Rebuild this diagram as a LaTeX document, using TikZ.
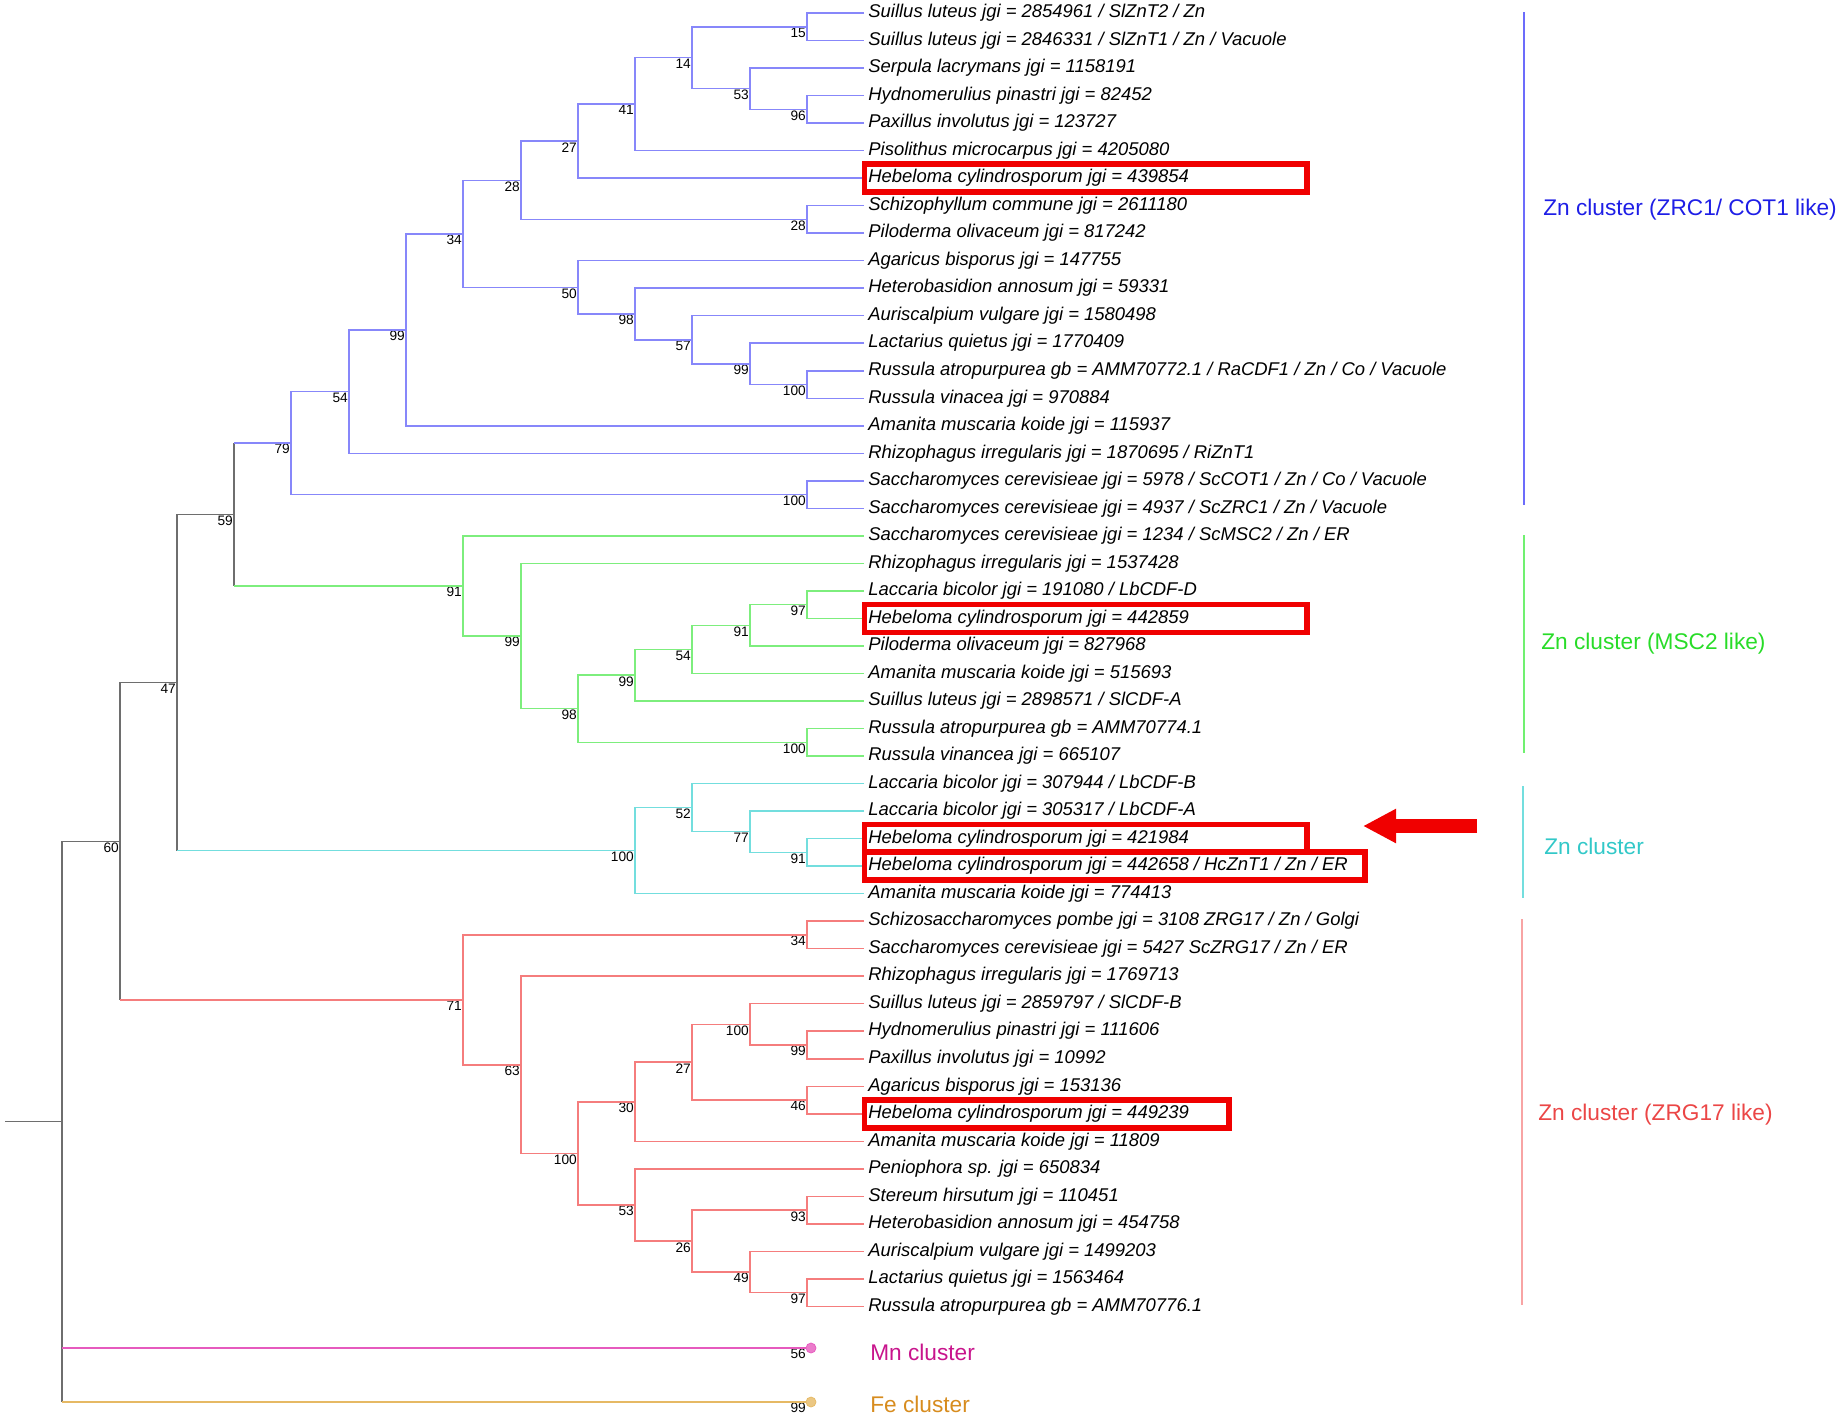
\documentclass[tikz,border=0pt]{standalone}
\usepackage{fontspec}
\setmainfont{Liberation Sans}
\usetikzlibrary{positioning}
\usetikzlibrary{arrows.meta}
\definecolor{treeblue}{RGB}{135,135,250}
\definecolor{treegreen}{RGB}{125,238,125}
\definecolor{treecyan}{RGB}{115,222,222}
\definecolor{treered}{RGB}{245,125,125}
\definecolor{treegray}{RGB}{110,110,110}
\definecolor{treemn}{RGB}{230,90,190}
\definecolor{treefe}{RGB}{230,185,100}
\definecolor{labblue}{RGB}{30,30,230}
\definecolor{labgreen}{RGB}{40,220,40}
\definecolor{labcyan}{RGB}{50,200,200}
\definecolor{labred}{RGB}{235,70,70}
\definecolor{labmn}{RGB}{200,20,140}
\definecolor{labfe}{RGB}{215,140,30}
\definecolor{hlred}{RGB}{240,0,0}
\tikzset{
    leafnode/.style = {anchor=west, inner xsep=2.5pt, inner ysep=0pt, outer sep=0pt, font=\itshape\fontsize{10.5}{12}\selectfont, text=black},
    bootnode/.style = {anchor=north east, inner sep=0.7pt, outer sep=0pt, font=\fontsize{7.8}{9}\selectfont, text=black},
    tipnode/.style = {circle, inner sep=0pt, outer sep=0pt, minimum size=0.2cm},
    clusnode/.style = {anchor=west, inner sep=0pt, font=\fontsize{12.9}{15}\selectfont},
    edgen/.style = {-, line width=0.85pt, treegray},
    edgeb/.style = {-, line width=0.85pt, treeblue},
    edgeg/.style = {-, line width=0.85pt, treegreen},
    edgec/.style = {-, line width=0.85pt, treecyan},
    edger/.style = {-, line width=0.85pt, treered},
    edgem/.style = {-, line width=0.85pt, treemn},
    edgef/.style = {-, line width=0.85pt, treefe},
    hlbox/.style = {draw=hlred, line width=0.11cm},
    hlarrow/.style = {hlred, line width=0.28cm, -{Triangle[length=0.66cm,width=0.64cm]}}
}

\begin{document}
\begin{tikzpicture}[x=0.02cm,y=-0.02cm]
\useasboundingbox (0,0) rectangle (1843,1421);
%
% leaves, Zn cluster (ZRC1/ COT1 like)
\node[leafnode] at (864,13.0) (l0) {Suillus luteus jgi = 2854961 / SlZnT2 / Zn};
\node[leafnode] at (864,40.5) (l1) {Suillus luteus jgi = 2846331 / SlZnT1 / Zn / Vacuole};
\node[leafnode] at (864,68.0) (l2) {Serpula lacrymans jgi = 1158191};
\node[leafnode] at (864,95.6) (l3) {Hydnomerulius pinastri jgi = 82452};
\node[leafnode] at (864,123.1) (l4) {Paxillus involutus jgi = 123727};
\node[leafnode] at (864,150.6) (l5) {Pisolithus microcarpus jgi = 4205080};
\node[leafnode] at (864,178.1) (l6) {Hebeloma cylindrosporum jgi = 439854};
\node[leafnode] at (864,205.6) (l7) {Schizophyllum commune jgi = 2611180};
\node[leafnode] at (864,233.2) (l8) {Piloderma olivaceum jgi = 817242};
\node[leafnode] at (864,260.7) (l9) {Agaricus bisporus jgi = 147755};
\node[leafnode] at (864,288.2) (l10) {Heterobasidion annosum jgi = 59331};
\node[leafnode] at (864,315.7) (l11) {Auriscalpium vulgare jgi = 1580498};
\node[leafnode] at (864,343.2) (l12) {Lactarius quietus jgi = 1770409};
\node[leafnode] at (864,370.8) (l13) {Russula atropurpurea gb = AMM70772.1 / RaCDF1 / Zn / Co / Vacuole};
\node[leafnode] at (864,398.3) (l14) {Russula vinacea jgi = 970884};
\node[leafnode] at (864,425.8) (l15) {Amanita muscaria koide jgi = 115937};
\node[leafnode] at (864,453.3) (l16) {Rhizophagus irregularis jgi = 1870695 / RiZnT1};
\node[leafnode] at (864,480.8) (l17) {Saccharomyces cerevisieae jgi = 5978 / ScCOT1 / Zn / Co / Vacuole};
\node[leafnode] at (864,508.4) (l18) {Saccharomyces cerevisieae jgi = 4937 / ScZRC1 / Zn / Vacuole};
% leaves, Zn cluster (MSC2 like)
\node[leafnode] at (864,535.9) (l19) {Saccharomyces cerevisieae jgi = 1234 / ScMSC2 / Zn / ER};
\node[leafnode] at (864,563.4) (l20) {Rhizophagus irregularis jgi = 1537428};
\node[leafnode] at (864,590.9) (l21) {Laccaria bicolor jgi = 191080 / LbCDF-D};
\node[leafnode] at (864,618.4) (l22) {Hebeloma cylindrosporum jgi = 442859};
\node[leafnode] at (864,646.0) (l23) {Piloderma olivaceum jgi = 827968};
\node[leafnode] at (864,673.5) (l24) {Amanita muscaria koide jgi = 515693};
\node[leafnode] at (864,701.0) (l25) {Suillus luteus jgi = 2898571 / SlCDF-A};
\node[leafnode] at (864,728.5) (l26) {Russula atropurpurea gb = AMM70774.1};
\node[leafnode] at (864,756.0) (l27) {Russula vinancea jgi = 665107};
% leaves, Zn cluster
\node[leafnode] at (864,783.6) (l28) {Laccaria bicolor jgi = 307944 / LbCDF-B};
\node[leafnode] at (864,811.1) (l29) {Laccaria bicolor jgi = 305317 / LbCDF-A};
\node[leafnode] at (864,838.6) (l30) {Hebeloma cylindrosporum jgi = 421984};
\node[leafnode] at (864,866.1) (l31) {Hebeloma cylindrosporum jgi = 442658 / HcZnT1 / Zn / ER};
\node[leafnode] at (864,893.6) (l32) {Amanita muscaria koide jgi = 774413};
% leaves, Zn cluster (ZRG17 like)
\node[leafnode] at (864,921.2) (l33) {Schizosaccharomyces pombe jgi = 3108 ZRG17 / Zn / Golgi};
\node[leafnode] at (864,948.7) (l34) {Saccharomyces cerevisieae jgi = 5427 ScZRG17 / Zn / ER};
\node[leafnode] at (864,976.2) (l35) {Rhizophagus irregularis jgi = 1769713};
\node[leafnode] at (864,1003.7) (l36) {Suillus luteus jgi = 2859797 / SlCDF-B};
\node[leafnode] at (864,1031.2) (l37) {Hydnomerulius pinastri jgi = 111606};
\node[leafnode] at (864,1058.8) (l38) {Paxillus involutus jgi = 10992};
\node[leafnode] at (864,1086.3) (l39) {Agaricus bisporus jgi = 153136};
\node[leafnode] at (864,1113.8) (l40) {Hebeloma cylindrosporum jgi = 449239};
\node[leafnode] at (864,1141.3) (l41) {Amanita muscaria koide jgi = 11809};
\node[leafnode] at (864,1168.8) (l42) {Peniophora sp. jgi = 650834};
\node[leafnode] at (864,1196.4) (l43) {Stereum hirsutum jgi = 110451};
\node[leafnode] at (864,1223.9) (l44) {Heterobasidion annosum jgi = 454758};
\node[leafnode] at (864,1251.4) (l45) {Auriscalpium vulgare jgi = 1499203};
\node[leafnode] at (864,1278.9) (l46) {Lactarius quietus jgi = 1563464};
\node[leafnode] at (864,1306.4) (l47) {Russula atropurpurea gb = AMM70776.1};
%
% inner nodes with bootstrap values
\node[bootnode] at (807,26.8) (b15) {15};
\node[bootnode] at (807,109.4) (b96) {96};
\node[bootnode] at (750,88.7) (b53) {53};
\node[bootnode] at (692,57.7) (b14) {14};
\node[bootnode] at (635,104.2) (b41) {41};
\node[bootnode] at (578,141.2) (b27) {27};
\node[bootnode] at (807,219.4) (b28b) {28};
\node[bootnode] at (521,180.3) (b28) {28};
\node[bootnode] at (807,384.6) (b100) {100};
\node[bootnode] at (750,363.9) (b99b) {99};
\node[bootnode] at (692,339.8) (b57) {57};
\node[bootnode] at (635,314.0) (b98) {98};
\node[bootnode] at (578,287.4) (b50) {50};
\node[bootnode] at (463,233.9) (b34) {34};
\node[bootnode] at (406,329.9) (b99) {99};
\node[bootnode] at (349,391.6) (b54) {54};
\node[bootnode] at (807,494.6) (b100b) {100};
\node[bootnode] at (291,443.1) (b79) {79};
\node[bootnode] at (234,514.6) (b59) {59};
\node[bootnode] at (177,682.6) (b47) {47};
\node[bootnode] at (120,841.3) (b60) {60};
%
\node[bootnode] at (807,604.7) (g97) {97};
\node[bootnode] at (750,625.3) (g91b) {91};
\node[bootnode] at (692,649.4) (g54) {54};
\node[bootnode] at (635,675.2) (g99b) {99};
\node[bootnode] at (807,742.3) (g100) {100};
\node[bootnode] at (578,708.7) (g98) {98};
\node[bootnode] at (521,636.1) (g99) {99};
\node[bootnode] at (463,586.0) (g91) {91};
%
\node[bootnode] at (807,852.4) (c91) {91};
\node[bootnode] at (750,831.7) (c77) {77};
\node[bootnode] at (692,807.7) (c52) {52};
\node[bootnode] at (635,850.6) (c100) {100};
%
\node[bootnode] at (807,935.0) (r34) {34};
\node[bootnode] at (807,1045.0) (r99) {99};
\node[bootnode] at (750,1024.4) (r100b) {100};
\node[bootnode] at (807,1100.0) (r46) {46};
\node[bootnode] at (692,1062.2) (r27) {27};
\node[bootnode] at (635,1101.8) (r30) {30};
\node[bootnode] at (807,1210.2) (r93) {93};
\node[bootnode] at (807,1292.7) (r97) {97};
\node[bootnode] at (750,1272.1) (r49) {49};
\node[bootnode] at (692,1241.2) (r26) {26};
\node[bootnode] at (635,1205.0) (r53) {53};
\node[bootnode] at (578,1153.4) (r100) {100};
\node[bootnode] at (521,1064.8) (r63) {63};
\node[bootnode] at (463,999.9) (r71) {71};
%
\coordinate (rootstub) at (5,1121.7);
\coordinate (root) at (62,1121.7);
\node[tipnode, fill=treemn!80, draw=treemn] at (811,1348) (mn) {};
\node[tipnode, fill=treefe!80, draw=treefe] at (811,1402) (fe) {};
\node[bootnode] at (807,1348) (b56) {56};
\node[bootnode] at (807,1402) (b99f) {99};
%
% blue clade
\draw[edgeb] (l0.west) -| (b15.north east) |- (l1.west);
\draw[edgeb] (l3.west) -| (b96.north east) |- (l4.west);
\draw[edgeb] (l2.west) -| (b53.north east) |- (b96.north east);
\draw[edgeb] (b15.north east) -| (b14.north east) |- (b53.north east);
\draw[edgeb] (b14.north east) -| (b41.north east) |- (l5.west);
\draw[edgeb] (b41.north east) -| (b27.north east) |- (l6.west);
\draw[edgeb] (l7.west) -| (b28b.north east) |- (l8.west);
\draw[edgeb] (b27.north east) -| (b28.north east) |- (b28b.north east);
\draw[edgeb] (l13.west) -| (b100.north east) |- (l14.west);
\draw[edgeb] (l12.west) -| (b99b.north east) |- (b100.north east);
\draw[edgeb] (l11.west) -| (b57.north east) |- (b99b.north east);
\draw[edgeb] (l10.west) -| (b98.north east) |- (b57.north east);
\draw[edgeb] (l9.west) -| (b50.north east) |- (b98.north east);
\draw[edgeb] (b28.north east) -| (b34.north east) |- (b50.north east);
\draw[edgeb] (b34.north east) -| (b99.north east) |- (l15.west);
\draw[edgeb] (b99.north east) -| (b54.north east) |- (l16.west);
\draw[edgeb] (l17.west) -| (b100b.north east) |- (l18.west);
\draw[edgeb] (b54.north east) -| (b79.north east) |- (b100b.north east);
% green clade
\draw[edgeg] (l21.west) -| (g97.north east) |- (l22.west);
\draw[edgeg] (g97.north east) -| (g91b.north east) |- (l23.west);
\draw[edgeg] (g91b.north east) -| (g54.north east) |- (l24.west);
\draw[edgeg] (g54.north east) -| (g99b.north east) |- (l25.west);
\draw[edgeg] (l26.west) -| (g100.north east) |- (l27.west);
\draw[edgeg] (g99b.north east) -| (g98.north east) |- (g100.north east);
\draw[edgeg] (l20.west) -| (g99.north east) |- (g98.north east);
\draw[edgeg] (l19.west) -| (g91.north east) |- (g99.north east);
% cyan clade
\draw[edgec] (l30.west) -| (c91.north east) |- (l31.west);
\draw[edgec] (l29.west) -| (c77.north east) |- (c91.north east);
\draw[edgec] (l28.west) -| (c52.north east) |- (c77.north east);
\draw[edgec] (c52.north east) -| (c100.north east) |- (l32.west);
% red clade
\draw[edger] (l33.west) -| (r34.north east) |- (l34.west);
\draw[edger] (l37.west) -| (r99.north east) |- (l38.west);
\draw[edger] (l36.west) -| (r100b.north east) |- (r99.north east);
\draw[edger] (l39.west) -| (r46.north east) |- (l40.west);
\draw[edger] (r100b.north east) -| (r27.north east) |- (r46.north east);
\draw[edger] (r27.north east) -| (r30.north east) |- (l41.west);
\draw[edger] (l43.west) -| (r93.north east) |- (l44.west);
\draw[edger] (l46.west) -| (r97.north east) |- (l47.west);
\draw[edger] (l45.west) -| (r49.north east) |- (r97.north east);
\draw[edger] (r93.north east) -| (r26.north east) |- (r49.north east);
\draw[edger] (l42.west) -| (r53.north east) |- (r26.north east);
\draw[edger] (r30.north east) -| (r100.north east) |- (r53.north east);
\draw[edger] (l35.west) -| (r63.north east) |- (r100.north east);
\draw[edger] (r34.north east) -| (r71.north east) |- (r63.north east);
% backbone
\draw[edgen] (b79.north east -| b59.north east) -- (g91.north east -| b59.north east);
\draw[edgeb] (b79.north east -| b59.north east) -- (b79.north east);
\draw[edgeg] (g91.north east -| b59.north east) -- (g91.north east);
\draw[edgen] (b59.north east) -| (b47.north east) -- (c100.north east -| b47.north east);
\draw[edgec] (c100.north east -| b47.north east) -- (c100.north east);
\draw[edgen] (b47.north east) -| (b60.north east) -- (r71.north east -| b60.north east);
\draw[edger] (r71.north east -| b60.north east) -- (r71.north east);
\draw[edgen] (rootstub) -- (root);
\draw[edgen] (b60.north east) -| (root) -- (fe.west -| root);
\draw[edgem] (mn.west -| root) -- (mn.west);
\draw[edgef] (fe.west -| root) -- (fe.west);
%
% highlighted Hebeloma sequences
\draw[hlbox] ([shift={(0.5,-14)}]l6.west) rectangle ([shift={(443,14)}]l6.west);
\draw[hlbox] ([shift={(0.5,-14)}]l22.west) rectangle ([shift={(443,14)}]l22.west);
\draw[hlbox] ([shift={(0.5,-14)}]l30.west) rectangle ([shift={(443,14)}]l30.west);
\draw[hlbox] ([shift={(0.5,-14)}]l31.west) rectangle ([shift={(501,14)}]l31.west);
\draw[hlbox] ([shift={(0.5,-14)}]l40.west) rectangle ([shift={(365,14)}]l40.west);
\coordinate (arrtail) at (1477,826);
\coordinate (arrtip) at (1363,826);
\draw[hlarrow] (arrtail) -- (arrtip);
%
% cluster brackets
\draw[line width=1pt, treeblue!80!blue] (1524,12) -- (1524,505);
\draw[line width=1pt, treegreen!90!green] (1524,535) -- (1524,753);
\draw[line width=1pt, treecyan] (1523,786) -- (1523,898);
\draw[line width=1pt, treered!70] (1522,919) -- (1522,1305);
\node[clusnode, text=labblue] at (1543,210) (kzrc) {Zn cluster (ZRC1/ COT1 like)};
\node[clusnode, text=labgreen] at (1541,644) (kmsc) {Zn cluster (MSC2 like)};
\node[clusnode, text=labcyan] at (1544,846) (kzn) {Zn cluster};
\node[clusnode, text=labred] at (1538,1115) (kzrg) {Zn cluster (ZRG17 like)};
\node[clusnode, text=labmn] at (870,1352) (kmn) {Mn cluster};
\node[clusnode, text=labfe] at (870,1404) (kfe) {Fe cluster};
\end{tikzpicture}
\end{document}
